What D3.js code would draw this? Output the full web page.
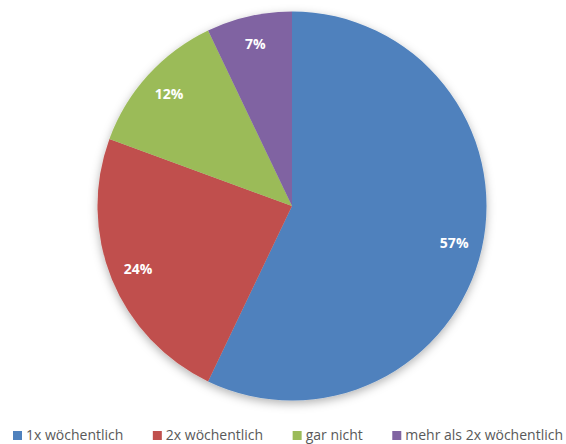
<!DOCTYPE html>
<html>
  <head>
    <meta charset="utf-8">
    <style>
      body { margin: 0; background: #fff; }
    </style>
  </head>
  <body>
    <div id="chart"></div>
  </body>
  <script src="https://d3js.org/d3.v7.min.js"></script>
  <script>

    // data
    let categories = ["1x wöchentlich", "2x wöchentlich", "gar nicht", "mehr als 2x wöchentlich"];
    let values = [57.1, 23.5, 12.3, 7.1];
    let colors = ["#4F81BD", "#C0504D", "#9BBB59", "#8064A2"];

    let width = 566, height = 444;
    let cx = 292, cy = 206, radius = 194.5;

    let svg = d3.select("#chart").append("svg")
      .attr("width", width)
      .attr("height", height)
      .style("font-family", "'Open Sans', 'Liberation Sans', sans-serif");

    // soft shadow under the pie
    let defs = svg.append("defs");
    let filter = defs.append("filter")
      .attr("id", "shadow")
      .attr("x", "-20%").attr("y", "-20%")
      .attr("width", "140%").attr("height", "140%");
    filter.append("feDropShadow")
      .attr("dx", 0).attr("dy", 3)
      .attr("stdDeviation", 5)
      .attr("flood-color", "#000")
      .attr("flood-opacity", 0.3);

    let pie = d3.pie().sort(null).value(d => d);
    let arcs = pie(values);

    let arc = d3.arc().innerRadius(0).outerRadius(radius);
    let labelArc = d3.arc().innerRadius(radius * 0.855).outerRadius(radius * 0.855);

    let g = svg.append("g")
      .attr("transform", "translate(" + cx + "," + cy + ")");

    g.append("g")
      .attr("filter", "url(#shadow)")
      .selectAll("path")
      .data(arcs)
      .enter().append("path")
      .attr("d", arc)
      .attr("fill", (d, i) => colors[i]);

    g.selectAll(".label")
      .data(arcs)
      .enter().append("text")
      .attr("class", "label")
      .attr("transform", d => "translate(" + labelArc.centroid(d) + ")")
      .attr("text-anchor", "middle")
      .attr("dy", "0.35em")
      .attr("fill", "#fff")
      .style("font-weight", "bold")
      .style("font-size", "14px")
      .text(d => Math.round(d.value) + "%");

    // legend, spread between x=13 and x=563
    let legend = svg.append("g").attr("transform", "translate(13,440)");
    let items = legend.selectAll("g")
      .data(categories)
      .enter().append("g");

    items.append("rect")
      .attr("width", 9).attr("height", 9)
      .attr("y", -9)
      .attr("fill", (d, i) => colors[i]);

    items.append("text")
      .attr("x", 13)
      .attr("y", 0)
      .attr("fill", "#595959")
      .style("font-size", "14px")
      .text(d => d);

    let widths = [];
    items.each(function() { widths.push(this.getBBox().width); });
    let gap = (550 - d3.sum(widths)) / (widths.length - 1);
    let x = 0;
    items.each(function(d, i) {
      d3.select(this).attr("transform", "translate(" + x + ",0)");
      x += widths[i] + gap;
    });

  </script>
</html>
